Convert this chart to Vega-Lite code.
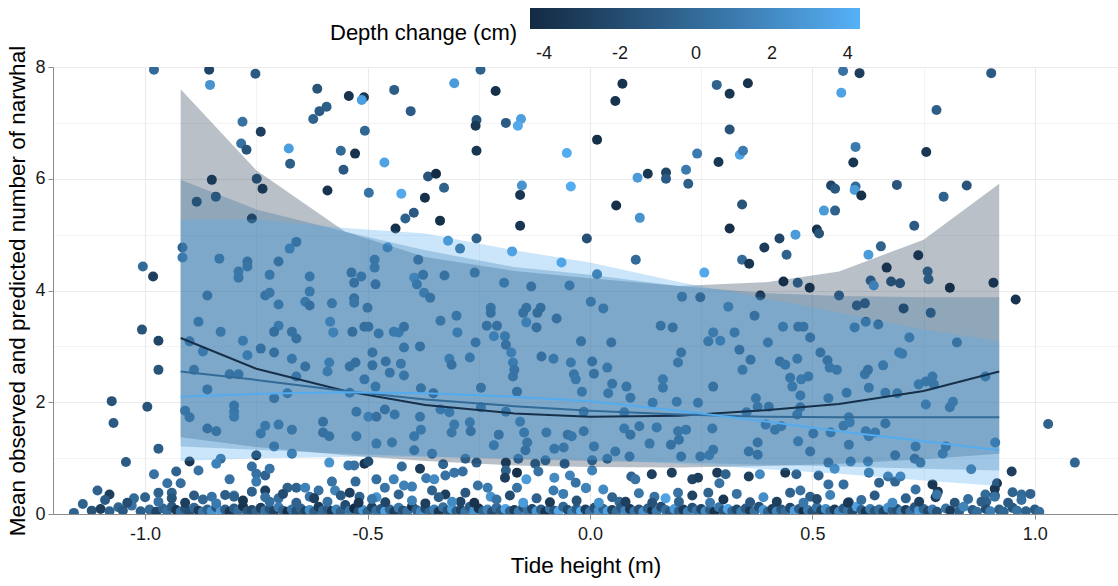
{
"$schema":"https://vega.github.io/schema/vega-lite/v6.json",
"autosize":{"type":"none"},
"padding":{"left":53,"top":67,"right":0,"bottom":72},
"width":1065,"height":447,
"background":"white",
"config":{
 "font":"Liberation Sans",
 "view":{"stroke":null},
 "axis":{"domainColor":"#8c8c8c","tickColor":"#8c8c8c","labelColor":"#1a1a1a","titleColor":"#000000","labelFontSize":18,"titleFontSize":22.5,"titleFontWeight":"normal","gridColor":"#ebebeb","labelFont":"Liberation Sans","titleFont":"Liberation Sans","labelOverlap":false,"labelFlush":false},
 "legend":{"labelFont":"Liberation Sans","titleFont":"Liberation Sans"}
},
"resolve":{"legend":{"color":"independent"}},
"datasets":{
"pts":[
{"tide":-0.98,"mean":7.95,"dc":0},{"tide":-0.856,"mean":7.95,"dc":-2.5},{"tide":-0.854,"mean":7.68,"dc":2.5},{"tide":-0.752,"mean":7.88,"dc":-1},{"tide":-0.613,"mean":7.61,"dc":-1.5},{"tide":-0.542,"mean":7.48,"dc":-3.8},{"tide":-0.508,"mean":7.46,"dc":-3.5},{"tide":-0.513,"mean":7.41,"dc":3.2},{"tide":-0.44,"mean":7.59,"dc":-0.8},{"tide":-0.246,"mean":7.95,"dc":-0.5},{"tide":-0.305,"mean":7.71,"dc":3},{"tide":-0.212,"mean":7.57,"dc":-4},{"tide":-0.781,"mean":7.02,"dc":0.5},{"tide":-0.74,"mean":6.84,"dc":-3},{"tide":-0.622,"mean":7.07,"dc":-0.5},{"tide":-0.608,"mean":7.21,"dc":-1},{"tide":-0.592,"mean":7.29,"dc":-0.8},{"tide":-0.403,"mean":7.21,"dc":-1},{"tide":-0.255,"mean":7.05,"dc":-1.5},{"tide":-0.257,"mean":6.95,"dc":-3.5},{"tide":-0.189,"mean":7.0,"dc":-1},{"tide":-0.155,"mean":7.07,"dc":3.2},{"tide":-0.162,"mean":6.95,"dc":3.8},{"tide":-0.506,"mean":6.86,"dc":-0.2},{"tide":-0.784,"mean":6.63,"dc":0.5},{"tide":-0.772,"mean":6.52,"dc":-1.5},{"tide":-0.677,"mean":6.54,"dc":3.2},{"tide":-0.674,"mean":6.27,"dc":-0.8},{"tide":-0.56,"mean":6.5,"dc":0},{"tide":-0.528,"mean":6.45,"dc":-3.8},{"tide":-0.554,"mean":6.16,"dc":-1.2},{"tide":-0.462,"mean":6.29,"dc":3.5},{"tide":-0.255,"mean":6.5,"dc":-3.6},{"tide":-0.85,"mean":5.98,"dc":-3},{"tide":-0.749,"mean":6.0,"dc":-1.2},{"tide":-0.736,"mean":5.82,"dc":-3.2},{"tide":-0.884,"mean":5.59,"dc":-1.5},{"tide":-0.841,"mean":5.68,"dc":-0.8},{"tide":-0.59,"mean":5.79,"dc":-3.8},{"tide":-0.497,"mean":5.75,"dc":0.5},{"tide":-0.424,"mean":5.73,"dc":3.8},{"tide":-0.364,"mean":6.04,"dc":-1.5},{"tide":-0.346,"mean":6.09,"dc":-4.3},{"tide":-0.328,"mean":5.84,"dc":-0.5},{"tide":-0.371,"mean":5.66,"dc":-3.9},{"tide":-0.153,"mean":5.88,"dc":2.5},{"tide":-0.157,"mean":5.71,"dc":-3.5},{"tide":-0.337,"mean":5.25,"dc":-4},{"tide":-0.396,"mean":5.39,"dc":-1.2},{"tide":-0.415,"mean":5.29,"dc":-0.5},{"tide":-0.437,"mean":5.11,"dc":-3.9},{"tide":-0.157,"mean":5.16,"dc":-3.6},{"tide":-0.175,"mean":4.7,"dc":3.2},{"tide":-0.255,"mean":4.93,"dc":-0.5},{"tide":-0.319,"mean":4.89,"dc":2.5},{"tide":-0.292,"mean":4.75,"dc":0},{"tide":-1.005,"mean":4.43,"dc":0},{"tide":-0.982,"mean":4.25,"dc":-3},{"tide":-0.916,"mean":4.77,"dc":-0.5},{"tide":-0.916,"mean":4.59,"dc":1},{"tide":-0.833,"mean":4.57,"dc":0},
{"tide":0.569,"mean":7.93,"dc":0.5},{"tide":0.606,"mean":7.89,"dc":-3},{"tide":0.902,"mean":7.89,"dc":-1},{"tide":0.565,"mean":7.54,"dc":3.5},{"tide":0.073,"mean":7.7,"dc":-3.8},{"tide":0.057,"mean":7.39,"dc":-3.8},{"tide":0.285,"mean":7.68,"dc":-0.5},{"tide":0.314,"mean":7.52,"dc":-3.6},{"tide":0.355,"mean":7.71,"dc":-3.8},{"tide":0.779,"mean":7.23,"dc":-0.8},{"tide":0.016,"mean":6.7,"dc":-4},{"tide":0.314,"mean":6.88,"dc":-1.5},{"tide":-0.052,"mean":6.46,"dc":4},{"tide":-0.043,"mean":5.86,"dc":4},{"tide":0.13,"mean":6.09,"dc":-3.5},{"tide":0.107,"mean":6.02,"dc":3},{"tide":0.171,"mean":6.11,"dc":-2.5},{"tide":0.171,"mean":6.0,"dc":-1},{"tide":0.216,"mean":6.16,"dc":1},{"tide":0.241,"mean":6.45,"dc":1},{"tide":0.289,"mean":6.3,"dc":-3.5},{"tide":0.337,"mean":6.43,"dc":3.5},{"tide":0.344,"mean":6.5,"dc":1},{"tide":0.221,"mean":5.91,"dc":-0.8},{"tide":0.597,"mean":6.57,"dc":1},{"tide":0.592,"mean":6.29,"dc":-3.6},{"tide":0.756,"mean":6.48,"dc":-3.5},{"tide":0.059,"mean":5.52,"dc":-4},{"tide":0.112,"mean":5.3,"dc":2.5},{"tide":0.342,"mean":5.54,"dc":-1.5},{"tide":0.542,"mean":5.88,"dc":-2.5},{"tide":0.551,"mean":5.82,"dc":-1.2},{"tide":0.597,"mean":5.86,"dc":0},{"tide":0.595,"mean":5.8,"dc":3},{"tide":0.61,"mean":5.7,"dc":-4},{"tide":0.69,"mean":5.89,"dc":-1.5},{"tide":0.795,"mean":5.68,"dc":-0.5},{"tide":0.847,"mean":5.88,"dc":-1.5},{"tide":-0.007,"mean":4.93,"dc":-1.8},{"tide":-0.064,"mean":4.5,"dc":3.5},{"tide":-0.046,"mean":4.09,"dc":0.5},{"tide":0.016,"mean":4.29,"dc":0.5},{"tide":0.103,"mean":4.55,"dc":0},{"tide":0.257,"mean":4.32,"dc":3.8},{"tide":0.314,"mean":5.11,"dc":-4},{"tide":0.342,"mean":4.55,"dc":0},{"tide":0.358,"mean":4.48,"dc":-3.6},{"tide":0.392,"mean":4.77,"dc":-3.2},{"tide":0.426,"mean":4.93,"dc":-2.5},{"tide":0.442,"mean":4.64,"dc":-0.5},{"tide":0.462,"mean":5.0,"dc":3},{"tide":0.51,"mean":5.09,"dc":-3.8},{"tide":0.515,"mean":5.02,"dc":-1.5},{"tide":0.526,"mean":5.43,"dc":3},{"tide":0.551,"mean":5.43,"dc":-0.5},{"tide":0.626,"mean":4.64,"dc":3},{"tide":0.654,"mean":4.79,"dc":-0.5},{"tide":0.667,"mean":4.41,"dc":-3.5},{"tide":0.729,"mean":5.16,"dc":-1},{"tide":0.738,"mean":4.63,"dc":-3.5},{"tide":0.759,"mean":4.34,"dc":0},{"tide":0.761,"mean":4.2,"dc":0},{"tide":0.809,"mean":4.05,"dc":-4},{"tide":0.907,"mean":4.14,"dc":-3.5},{"tide":0.957,"mean":3.84,"dc":-3.8},{"tide":0.631,"mean":4.18,"dc":0},{"tide":0.638,"mean":4.09,"dc":3.5},{"tide":0.677,"mean":4.16,"dc":-1},{"tide":0.697,"mean":4.13,"dc":-1},{"tide":0.435,"mean":4.16,"dc":-4},{"tide":0.467,"mean":4.14,"dc":0},{"tide":0.494,"mean":4.05,"dc":-3.8},{"tide":0.383,"mean":3.91,"dc":-3.8},{"tide":0.56,"mean":3.91,"dc":0},{"tide":0.207,"mean":3.89,"dc":0},{"tide":0.248,"mean":3.88,"dc":-2.5},
{"tide":-0.79,"mean":4.34,"dc":0.5},{"tide":-0.79,"mean":4.23,"dc":0.3},{"tide":-0.77,"mean":4.52,"dc":-0.8},{"tide":-0.77,"mean":4.43,"dc":0.2},{"tide":-0.72,"mean":4.28,"dc":0.5},{"tide":-0.7,"mean":4.52,"dc":-0.8},{"tide":-0.675,"mean":4.75,"dc":1.5},{"tide":-0.66,"mean":4.87,"dc":-0.5},{"tide":-0.63,"mean":4.25,"dc":0.3},{"tide":-0.63,"mean":3.98,"dc":0.6},{"tide":-0.536,"mean":4.32,"dc":-0.6},{"tide":-0.53,"mean":4.14,"dc":-0.8},{"tide":-0.514,"mean":4.25,"dc":0.2},{"tide":-0.484,"mean":4.55,"dc":0.3},{"tide":-0.484,"mean":4.41,"dc":0.5},{"tide":-0.482,"mean":4.11,"dc":-0.6},{"tide":-0.53,"mean":3.86,"dc":-0.6},{"tide":-0.73,"mean":3.91,"dc":-0.3},{"tide":-0.72,"mean":3.96,"dc":0.5},{"tide":-0.86,"mean":3.91,"dc":-0.5},{"tide":-0.455,"mean":4.77,"dc":2},{"tide":-0.386,"mean":4.55,"dc":-0.6},{"tide":-0.395,"mean":4.23,"dc":2.5},{"tide":-0.375,"mean":4.28,"dc":-0.5},{"tide":-0.389,"mean":4.11,"dc":0.4},{"tide":-0.373,"mean":3.96,"dc":1},{"tide":-0.359,"mean":3.87,"dc":-0.5},{"tide":-0.327,"mean":4.27,"dc":-0.6},{"tide":-0.259,"mean":4.32,"dc":0.2},{"tide":-0.193,"mean":4.14,"dc":0.5},{"tide":-0.132,"mean":4.07,"dc":-0.6},{"tide":-0.223,"mean":3.69,"dc":-0.5},{"tide":-0.143,"mean":3.69,"dc":-0.6},{"tide":-0.111,"mean":3.69,"dc":-1},{"tide":-0.76,"mean":5.29,"dc":-3.5},
{"tide":-0.97,"mean":3.1,"dc":-2.5},{"tide":-0.97,"mean":2.58,"dc":-1.5},{"tide":-0.995,"mean":1.92,"dc":-1.5},{"tide":-0.97,"mean":1.17,"dc":-0.8},{"tide":-0.9,"mean":3.09,"dc":0.5},{"tide":-0.89,"mean":2.58,"dc":0},{"tide":-0.88,"mean":3.44,"dc":0.2},{"tide":-0.87,"mean":2.91,"dc":0.8},{"tide":-0.86,"mean":2.23,"dc":0},{"tide":-0.91,"mean":1.85,"dc":0.3},{"tide":-0.9,"mean":1.73,"dc":0},{"tide":-0.86,"mean":1.53,"dc":-0.8},{"tide":-0.84,"mean":1.48,"dc":-0.5},{"tide":-0.83,"mean":3.26,"dc":0.5},{"tide":-0.81,"mean":2.5,"dc":-0.3},{"tide":-0.79,"mean":2.5,"dc":-0.3},{"tide":-0.8,"mean":1.83,"dc":0.6},{"tide":-0.8,"mean":1.74,"dc":0.8},{"tide":-0.8,"mean":1.94,"dc":0.2},{"tide":-0.78,"mean":3.1,"dc":0.8},{"tide":-0.77,"mean":2.84,"dc":1.2},{"tide":-0.74,"mean":2.96,"dc":-0.8},{"tide":-0.71,"mean":2.89,"dc":-1},{"tide":-0.71,"mean":2.07,"dc":-0.3},{"tide":-0.74,"mean":1.44,"dc":0.5},{"tide":-0.73,"mean":1.58,"dc":0.6},{"tide":-0.71,"mean":1.21,"dc":0.2},{"tide":-0.7,"mean":3.75,"dc":0.3},{"tide":-0.7,"mean":3.37,"dc":0.8},{"tide":-0.71,"mean":3.26,"dc":-1},{"tide":-0.68,"mean":2.16,"dc":0.4},{"tide":-0.67,"mean":3.26,"dc":-0.5},{"tide":-0.66,"mean":3.14,"dc":-0.8},{"tide":-0.66,"mean":2.46,"dc":0.2},{"tide":-0.67,"mean":2.78,"dc":0.5},{"tide":-0.7,"mean":1.6,"dc":0.7},{"tide":-0.67,"mean":1.51,"dc":0.5},{"tide":-0.67,"mean":1.08,"dc":0.3},{"tide":-0.64,"mean":3.8,"dc":0.7},{"tide":-0.63,"mean":3.73,"dc":-1},{"tide":-0.64,"mean":2.64,"dc":-0.8},{"tide":-0.6,"mean":1.65,"dc":-0.6},{"tide":-0.6,"mean":1.46,"dc":-0.8},{"tide":-0.586,"mean":1.39,"dc":-0.5},{"tide":-0.59,"mean":2.55,"dc":1},{"tide":-0.586,"mean":2.71,"dc":1.5},{"tide":-0.584,"mean":3.44,"dc":2},{"tide":-0.577,"mean":3.25,"dc":2.2},{"tide":-0.58,"mean":3.77,"dc":0.5},{"tide":-0.53,"mean":3.78,"dc":0.3},{"tide":-0.54,"mean":2.17,"dc":0.5},{"tide":-0.525,"mean":1.83,"dc":0},{"tide":-0.525,"mean":1.39,"dc":0.3},{"tide":-0.534,"mean":3.26,"dc":-1.2},{"tide":-0.54,"mean":2.64,"dc":-0.6},{"tide":-0.527,"mean":2.71,"dc":-1},{"tide":-0.507,"mean":2.41,"dc":0.2},{"tide":-0.5,"mean":3.69,"dc":-0.5},{"tide":-0.507,"mean":3.35,"dc":-1.2},{"tide":-0.498,"mean":3.35,"dc":-1},{"tide":-0.489,"mean":2.89,"dc":-0.5},{"tide":-0.489,"mean":2.66,"dc":-0.6},{"tide":-0.482,"mean":2.28,"dc":0.3},{"tide":-0.475,"mean":3.23,"dc":0.2},{"tide":-0.459,"mean":2.73,"dc":-0.6},{"tide":-0.45,"mean":2.53,"dc":-0.3},{"tide":-0.498,"mean":1.74,"dc":2},{"tide":-0.48,"mean":1.74,"dc":-0.8},{"tide":-0.461,"mean":1.87,"dc":-0.7},{"tide":-0.439,"mean":1.78,"dc":0.3},{"tide":-0.445,"mean":1.28,"dc":0.5},{"tide":-0.48,"mean":1.26,"dc":0.6},{"tide":-0.441,"mean":3.26,"dc":0.8},{"tide":-0.43,"mean":3.25,"dc":1.2},{"tide":-0.418,"mean":3.35,"dc":-0.6},{"tide":-0.418,"mean":2.98,"dc":0.2},{"tide":-0.425,"mean":2.69,"dc":0.5},{"tide":-0.418,"mean":2.48,"dc":0.3},{"tide":-0.382,"mean":3.0,"dc":-0.6},{"tide":-0.38,"mean":2.25,"dc":-0.2},{"tide":-0.382,"mean":1.74,"dc":0.3},{"tide":-0.38,"mean":1.51,"dc":0.8},{"tide":-0.395,"mean":1.39,"dc":0.5},{"tide":-0.395,"mean":1.14,"dc":-0.3},{"tide":-0.352,"mean":2.16,"dc":-1.2},{"tide":-0.355,"mean":1.08,"dc":0.5},{"tide":-0.336,"mean":3.46,"dc":0.3},{"tide":-0.336,"mean":1.87,"dc":0.6},{"tide":-0.316,"mean":2.78,"dc":1.3},{"tide":-0.311,"mean":2.67,"dc":-0.6},{"tide":-0.316,"mean":1.82,"dc":0.8},{"tide":-0.311,"mean":1.46,"dc":0.5},{"tide":-0.305,"mean":1.6,"dc":0.8},{"tide":-0.3,"mean":3.55,"dc":0.3},{"tide":-0.298,"mean":3.25,"dc":1.2},{"tide":-0.27,"mean":2.8,"dc":0.5},{"tide":-0.27,"mean":1.64,"dc":0.8},{"tide":-0.268,"mean":1.48,"dc":-0.6},{"tide":-0.257,"mean":3.07,"dc":-0.2},{"tide":-0.245,"mean":2.26,"dc":-0.3},{"tide":-0.245,"mean":1.91,"dc":0.2},{"tide":-0.216,"mean":1.23,"dc":0.4},{"tide":-0.223,"mean":3.6,"dc":-0.6},{"tide":-0.232,"mean":3.37,"dc":-0.6},{"tide":-0.209,"mean":3.37,"dc":-0.8},{"tide":-0.216,"mean":3.18,"dc":2},{"tide":-0.191,"mean":3.18,"dc":0.8},{"tide":-0.189,"mean":3.03,"dc":-0.6},{"tide":-0.177,"mean":2.89,"dc":1.8},{"tide":-0.173,"mean":2.71,"dc":1.5},{"tide":-0.17,"mean":2.58,"dc":-0.5},{"tide":-0.173,"mean":2.46,"dc":-0.3},{"tide":-0.164,"mean":2.19,"dc":-0.8},{"tide":-0.189,"mean":1.83,"dc":0.5},{"tide":-0.205,"mean":1.42,"dc":-0.5},{"tide":-0.157,"mean":1.65,"dc":1},{"tide":-0.148,"mean":1.46,"dc":0.4},{"tide":-0.141,"mean":1.28,"dc":0.2},{"tide":-0.145,"mean":1.14,"dc":-0.8},{"tide":-0.15,"mean":3.6,"dc":-0.8},{"tide":-0.143,"mean":3.43,"dc":2},{"tide":-0.12,"mean":3.34,"dc":-1},{"tide":-0.118,"mean":3.6,"dc":-1.5},{"tide":-0.109,"mean":2.82,"dc":-1},{"tide":-0.098,"mean":1.46,"dc":0.5},{"tide":-0.08,"mean":1.17,"dc":0.3},{"tide":-0.059,"mean":1.19,"dc":0.5},{"tide":-0.082,"mean":2.78,"dc":0.6},{"tide":-0.075,"mean":3.5,"dc":-1},{"tide":-0.05,"mean":1.42,"dc":-0.5},{"tide":-0.041,"mean":1.39,"dc":0.4},{"tide":-0.043,"mean":2.71,"dc":0.8},{"tide":-0.036,"mean":2.5,"dc":0.3},{"tide":-0.032,"mean":2.41,"dc":0.6},{"tide":-0.02,"mean":3.09,"dc":-0.5},{"tide":-0.014,"mean":1.48,"dc":0.2},{"tide":-0.018,"mean":2.19,"dc":0.4},{"tide":0.005,"mean":2.73,"dc":-0.8},{"tide":0.009,"mean":2.51,"dc":-0.5},{"tide":0.009,"mean":1.21,"dc":0.3},{"tide":0.002,"mean":3.8,"dc":0.5},{"tide":-0.014,"mean":1.83,"dc":0.5},
{"tide":0.03,"mean":3.68,"dc":0.5},{"tide":0.159,"mean":3.37,"dc":-0.5},{"tide":0.186,"mean":3.34,"dc":-0.6},{"tide":0.048,"mean":3.07,"dc":-0.6},{"tide":0.205,"mean":2.89,"dc":-0.2},{"tide":0.198,"mean":2.71,"dc":0.5},{"tide":0.266,"mean":3.09,"dc":0.5},{"tide":0.277,"mean":3.25,"dc":1},{"tide":0.039,"mean":2.62,"dc":0.5},{"tide":0.05,"mean":2.33,"dc":0.2},{"tide":0.041,"mean":2.16,"dc":0.4},{"tide":0.082,"mean":2.28,"dc":0.3},{"tide":0.091,"mean":2.08,"dc":0.3},{"tide":0.164,"mean":2.41,"dc":0.8},{"tide":0.164,"mean":2.26,"dc":0.5},{"tide":0.195,"mean":2.01,"dc":0.6},{"tide":0.243,"mean":1.99,"dc":0.3},{"tide":0.277,"mean":2.28,"dc":-0.6},{"tide":0.077,"mean":1.82,"dc":0.5},{"tide":0.141,"mean":1.99,"dc":0.6},{"tide":0.057,"mean":1.12,"dc":0.3},{"tide":0.077,"mean":1.53,"dc":0.6},{"tide":0.091,"mean":1.42,"dc":-0.5},{"tide":0.111,"mean":1.57,"dc":0.3},{"tide":0.134,"mean":1.26,"dc":0.5},{"tide":0.15,"mean":1.55,"dc":0.6},{"tide":0.182,"mean":1.24,"dc":-0.6},{"tide":0.198,"mean":1.48,"dc":0.5},{"tide":0.2,"mean":1.33,"dc":-0.5},{"tide":0.205,"mean":1.03,"dc":-0.3},{"tide":0.216,"mean":1.51,"dc":0.4},{"tide":0.248,"mean":1.03,"dc":0.2},{"tide":0.268,"mean":1.05,"dc":0.6},{"tide":0.275,"mean":1.53,"dc":0.4},{"tide":0.277,"mean":1.15,"dc":0.3},{"tide":0.089,"mean":1.03,"dc":-0.3},
{"tide":0.293,"mean":3.1,"dc":1.5},{"tide":0.311,"mean":3.71,"dc":1.2},{"tide":0.325,"mean":3.25,"dc":0.5},{"tide":0.336,"mean":2.94,"dc":-0.8},{"tide":0.343,"mean":2.58,"dc":0.5},{"tide":0.361,"mean":2.76,"dc":-0.6},{"tide":0.37,"mean":3.55,"dc":-0.8},{"tide":0.352,"mean":1.82,"dc":0.3},{"tide":0.357,"mean":1.12,"dc":-0.5},{"tide":0.377,"mean":1.28,"dc":-0.3},{"tide":0.377,"mean":1.06,"dc":-0.6},{"tide":0.373,"mean":2.07,"dc":0.5},{"tide":0.377,"mean":1.92,"dc":0.3},{"tide":0.402,"mean":1.92,"dc":-0.3},{"tide":0.4,"mean":3.07,"dc":0.4},{"tide":0.395,"mean":1.6,"dc":0.5},{"tide":0.416,"mean":1.51,"dc":0.3},{"tide":0.43,"mean":1.57,"dc":0.5},{"tide":0.427,"mean":2.73,"dc":-0.6},{"tide":0.434,"mean":3.35,"dc":0.6},{"tide":0.439,"mean":2.67,"dc":0.3},{"tide":0.45,"mean":2.44,"dc":0.3},{"tide":0.455,"mean":2.28,"dc":0.6},{"tide":0.466,"mean":2.78,"dc":0.3},{"tide":0.468,"mean":3.35,"dc":-0.6},{"tide":0.48,"mean":3.35,"dc":-0.3},{"tide":0.475,"mean":2.41,"dc":1},{"tide":0.491,"mean":2.46,"dc":0.5},{"tide":0.495,"mean":3.16,"dc":-0.6},{"tide":0.473,"mean":2.12,"dc":0.4},{"tide":0.473,"mean":1.91,"dc":-0.5},{"tide":0.468,"mean":1.3,"dc":0.6},{"tide":0.466,"mean":1.78,"dc":0.3},{"tide":0.495,"mean":1.12,"dc":-0.5},{"tide":0.502,"mean":1.44,"dc":-0.3},{"tide":0.518,"mean":2.89,"dc":-0.5},{"tide":0.534,"mean":2.75,"dc":-0.6},{"tide":0.539,"mean":2.62,"dc":0.3},{"tide":0.536,"mean":2.07,"dc":0.5},{"tide":0.541,"mean":1.46,"dc":0.4},{"tide":0.536,"mean":0.92,"dc":-0.6},{"tide":0.555,"mean":2.58,"dc":0.5},{"tide":0.57,"mean":1.58,"dc":0.5},{"tide":0.577,"mean":2.17,"dc":0.2},{"tide":0.582,"mean":1.73,"dc":0.5},{"tide":0.584,"mean":1.64,"dc":1.2},{"tide":0.582,"mean":1.24,"dc":0.3},{"tide":0.586,"mean":0.94,"dc":0.4},{"tide":0.595,"mean":3.34,"dc":0.5},{"tide":0.6,"mean":3.73,"dc":-0.6},{"tide":0.618,"mean":3.77,"dc":-0.8},{"tide":0.62,"mean":3.44,"dc":0.2},{"tide":0.618,"mean":2.5,"dc":-0.3},{"tide":0.625,"mean":2.58,"dc":-0.6},{"tide":0.627,"mean":2.26,"dc":0.5},{"tide":0.62,"mean":1.48,"dc":0.5},{"tide":0.627,"mean":1.39,"dc":0.8},{"tide":0.641,"mean":1.46,"dc":0.6},{"tide":0.648,"mean":3.39,"dc":-0.6},{"tide":0.625,"mean":0.94,"dc":0.5},{"tide":0.705,"mean":3.68,"dc":-2.5},{"tide":0.695,"mean":2.89,"dc":1.5},{"tide":0.702,"mean":2.87,"dc":1.2},{"tide":0.718,"mean":3.16,"dc":0.6},{"tide":0.659,"mean":2.66,"dc":0.5},{"tide":0.664,"mean":2.17,"dc":0.5},{"tide":0.664,"mean":1.62,"dc":-0.5},{"tide":0.686,"mean":1.05,"dc":-0.6},{"tide":0.691,"mean":2.16,"dc":0.5},{"tide":0.73,"mean":0.99,"dc":-0.8},{"tide":0.732,"mean":1.21,"dc":0.5},{"tide":0.743,"mean":0.92,"dc":-0.6},{"tide":0.739,"mean":2.32,"dc":0.6},{"tide":0.755,"mean":1.96,"dc":1},{"tide":0.755,"mean":2.37,"dc":0.3},{"tide":0.766,"mean":3.6,"dc":-0.5},{"tide":0.77,"mean":2.46,"dc":0.5},{"tide":0.773,"mean":2.32,"dc":0.3},{"tide":0.793,"mean":1.08,"dc":1},{"tide":0.8,"mean":1.21,"dc":0.5},{"tide":0.809,"mean":1.91,"dc":0.5},{"tide":0.816,"mean":2.01,"dc":0.8},{"tide":0.825,"mean":3.07,"dc":-0.5},{"tide":0.889,"mean":2.46,"dc":0.5},{"tide":0.911,"mean":1.28,"dc":1.5},{"tide":0.857,"mean":0.8,"dc":0.5},{"tide":0.948,"mean":0.76,"dc":-3},{"tide":0.97,"mean":0.35,"dc":0},
{"tide":-0.9,"mean":0.94,"dc":-3.5},{"tide":-0.88,"mean":0.78,"dc":0.5},{"tide":-0.83,"mean":0.99,"dc":0.3},{"tide":-0.84,"mean":0.9,"dc":1.5},{"tide":-0.98,"mean":0.71,"dc":0.5},{"tide":-0.93,"mean":0.76,"dc":-0.5},{"tide":-0.92,"mean":0.55,"dc":0.2},{"tide":-0.89,"mean":0.33,"dc":-1},{"tide":-0.85,"mean":0.31,"dc":0.5},{"tide":-0.81,"mean":0.62,"dc":0.5},{"tide":-0.8,"mean":0.33,"dc":1.5},{"tide":-0.75,"mean":1.05,"dc":-3.5},{"tide":-0.76,"mean":0.85,"dc":0.3},{"tide":-0.75,"mean":0.72,"dc":0.5},{"tide":-0.73,"mean":0.69,"dc":-0.5},{"tide":-0.72,"mean":0.81,"dc":0.6},{"tide":-0.75,"mean":0.58,"dc":1},{"tide":-0.73,"mean":0.42,"dc":-3},{"tide":-0.7,"mean":0.28,"dc":0.2},{"tide":-0.68,"mean":0.47,"dc":-0.6},{"tide":-0.66,"mean":0.47,"dc":-0.5},{"tide":-0.64,"mean":0.47,"dc":1.5},{"tide":-0.63,"mean":0.31,"dc":0.5},{"tide":-0.61,"mean":0.42,"dc":0.5},{"tide":-0.586,"mean":0.92,"dc":2.5},{"tide":-0.58,"mean":0.58,"dc":0.5},{"tide":-0.573,"mean":0.42,"dc":1.5},{"tide":-0.543,"mean":0.87,"dc":1},{"tide":-0.53,"mean":0.87,"dc":0.5},{"tide":-0.507,"mean":0.9,"dc":-3.5},{"tide":-0.498,"mean":0.94,"dc":-2},{"tide":-0.527,"mean":0.58,"dc":0},{"tide":-0.54,"mean":0.38,"dc":-3},{"tide":-0.518,"mean":0.31,"dc":-0.5},{"tide":-0.48,"mean":0.62,"dc":0.3},{"tide":-0.461,"mean":0.47,"dc":0.6},{"tide":-0.48,"mean":0.3,"dc":2.5},{"tide":-0.441,"mean":0.62,"dc":1.5},{"tide":-0.423,"mean":0.85,"dc":0},{"tide":-0.418,"mean":0.51,"dc":1.5},{"tide":-0.4,"mean":0.49,"dc":1.3},{"tide":-0.382,"mean":0.81,"dc":-3.2},{"tide":-0.368,"mean":0.64,"dc":1},{"tide":-0.35,"mean":0.62,"dc":2},{"tide":-0.355,"mean":0.42,"dc":-0.5},{"tide":-0.33,"mean":0.89,"dc":-0.3},{"tide":-0.325,"mean":0.69,"dc":0.5},{"tide":-0.325,"mean":0.35,"dc":-3},{"tide":-0.305,"mean":0.74,"dc":0.6},{"tide":-0.286,"mean":0.76,"dc":0.3},{"tide":-0.291,"mean":0.22,"dc":-2.5},{"tide":-0.28,"mean":0.99,"dc":0.5},{"tide":-0.255,"mean":0.92,"dc":-0.5},{"tide":-0.252,"mean":0.51,"dc":0.5},{"tide":-0.23,"mean":0.47,"dc":1},{"tide":-0.223,"mean":0.31,"dc":2.5},{"tide":-0.189,"mean":0.92,"dc":-3},{"tide":-0.189,"mean":0.78,"dc":-0.6},{"tide":-0.191,"mean":0.65,"dc":-3},{"tide":-0.164,"mean":0.74,"dc":-4},{"tide":-0.164,"mean":0.47,"dc":0.5},{"tide":-0.143,"mean":0.62,"dc":3},{"tide":-0.123,"mean":0.9,"dc":-0.5},{"tide":-0.116,"mean":0.76,"dc":0.5},{"tide":-0.1,"mean":0.96,"dc":0.6},{"tide":-0.08,"mean":0.65,"dc":2},{"tide":-0.082,"mean":0.42,"dc":1},{"tide":-0.057,"mean":0.9,"dc":-0.3},{"tide":-0.045,"mean":0.69,"dc":1.5},{"tide":-0.032,"mean":0.56,"dc":0.5},{"tide":-0.009,"mean":0.47,"dc":3},{"tide":0.005,"mean":0.78,"dc":1.5},{"tide":-0.161,"mean":0.99,"dc":0.3},{"tide":0.005,"mean":0.96,"dc":0.5},{"tide":0.039,"mean":0.99,"dc":0.3},
{"tide":0.093,"mean":0.67,"dc":-0.5},{"tide":0.102,"mean":0.62,"dc":0.6},{"tide":0.139,"mean":0.71,"dc":-3},{"tide":0.184,"mean":0.74,"dc":-3},{"tide":0.198,"mean":0.38,"dc":0.5},{"tide":0.23,"mean":0.62,"dc":-2.5},{"tide":0.243,"mean":0.65,"dc":-3},{"tide":0.266,"mean":0.38,"dc":-0.5},{"tide":0.286,"mean":0.74,"dc":-3.2},{"tide":0.291,"mean":0.55,"dc":0.5},{"tide":0.305,"mean":0.71,"dc":-0.5},{"tide":0.357,"mean":0.67,"dc":-3},{"tide":0.382,"mean":0.71,"dc":2},{"tide":0.439,"mean":0.74,"dc":-3.5},{"tide":0.464,"mean":0.71,"dc":-0.5},{"tide":0.473,"mean":0.42,"dc":0.5},{"tide":0.495,"mean":0.31,"dc":-0.6},{"tide":0.514,"mean":0.69,"dc":-0.5},{"tide":0.536,"mean":0.53,"dc":0.3},{"tide":0.55,"mean":0.81,"dc":1.5},{"tide":0.57,"mean":0.53,"dc":0.3},{"tide":0.582,"mean":0.21,"dc":-0.6},{"tide":0.627,"mean":0.74,"dc":0.3},{"tide":0.65,"mean":0.56,"dc":-0.5},{"tide":0.67,"mean":0.67,"dc":0.5},{"tide":0.686,"mean":0.58,"dc":-0.3},{"tide":0.698,"mean":0.67,"dc":1},{"tide":0.732,"mean":0.44,"dc":0.5},{"tide":0.77,"mean":0.53,"dc":-3.5},{"tide":0.782,"mean":0.4,"dc":-3.5},{"tide":0.777,"mean":0.3,"dc":-3},{"tide":0.889,"mean":0.35,"dc":0},{"tide":0.891,"mean":0.22,"dc":-0.5},{"tide":-0.009,"mean":0.46,"dc":1.5},{"tide":0.03,"mean":0.44,"dc":2},{"tide":0.066,"mean":0.22,"dc":0},{"tide":0.145,"mean":0.31,"dc":0.5},
{"tide":-1.007,"mean":3.3,"dc":-1.5},{"tide":-1.075,"mean":2.02,"dc":-1.5},{"tide":-1.071,"mean":1.63,"dc":-1},{"tide":-1.043,"mean":0.93,"dc":-1},{"tide":-1.107,"mean":0.42,"dc":-0.5},{"tide":-1.08,"mean":0.35,"dc":-3},{"tide":-1.025,"mean":0.28,"dc":0},{"tide":-0.97,"mean":0.38,"dc":-0.5},{"tide":-0.95,"mean":0.55,"dc":0.5},{"tide":-0.94,"mean":0.38,"dc":-0.5},{"tide":-0.8,"mean":0.31,"dc":-0.5},{"tide":-0.73,"mean":0.3,"dc":0.5},
{"tide":1.03,"mean":1.61,"dc":-0.5},{"tide":1.09,"mean":0.92,"dc":-0.3},{"tide":0.95,"mean":0.39,"dc":-0.5},{"tide":0.99,"mean":0.36,"dc":-0.5},{"tide":0.91,"mean":0.33,"dc":-3.5},{"tide":0.91,"mean":0.45,"dc":-3.5},{"tide":0.915,"mean":0.55,"dc":-3.5},
{"tide":-1.16,"mean":0.02,"dc":-0.5},{"tide":-1.12,"mean":0.06,"dc":-1.5},{"tide":-1.1,"mean":0.09,"dc":-3},{"tide":-1.08,"mean":0.05,"dc":-0.5},{"tide":-1.06,"mean":0.12,"dc":-0.3},{"tide":-1.05,"mean":0.06,"dc":-1.2},{"tide":-1.03,"mean":0.15,"dc":0.5},{"tide":-1.01,"mean":0.05,"dc":-0.8},{"tide":-0.99,"mean":0.08,"dc":0},{"tide":-0.975,"mean":0.04,"dc":-2.5},{"tide":-0.96,"mean":0.1,"dc":-0.5},{"tide":-0.95,"mean":0.05,"dc":0.3},{"tide":-0.94,"mean":0.13,"dc":-1},{"tide":-0.93,"mean":0.07,"dc":-3.5},{"tide":-0.92,"mean":0.04,"dc":0.5},{"tide":-0.91,"mean":0.09,"dc":-1.5},{"tide":-0.9,"mean":0.05,"dc":-2},{"tide":-0.89,"mean":0.11,"dc":-0.3},{"tide":-0.88,"mean":0.06,"dc":-3.2},{"tide":-0.87,"mean":0.04,"dc":0.8},{"tide":-0.86,"mean":0.08,"dc":-0.5},{"tide":-0.85,"mean":0.05,"dc":2.5},{"tide":-0.84,"mean":0.12,"dc":-1.5},{"tide":-0.83,"mean":0.05,"dc":3},{"tide":-0.82,"mean":0.08,"dc":-0.8},{"tide":-0.81,"mean":0.04,"dc":-3.5},{"tide":-0.8,"mean":0.1,"dc":-1},{"tide":-0.79,"mean":0.06,"dc":0.2},{"tide":-0.78,"mean":0.14,"dc":-3.8},{"tide":-0.77,"mean":0.05,"dc":-1.2},{"tide":-0.76,"mean":0.07,"dc":-2.2},{"tide":-0.75,"mean":0.04,"dc":-0.6},{"tide":-0.74,"mean":0.11,"dc":-3},{"tide":-0.73,"mean":0.06,"dc":0.4},{"tide":-0.72,"mean":0.09,"dc":-1.5},{"tide":-0.71,"mean":0.05,"dc":-2.8},{"tide":-0.7,"mean":0.12,"dc":1},{"tide":-0.69,"mean":0.06,"dc":-0.5},{"tide":-0.68,"mean":0.04,"dc":-4},{"tide":-0.67,"mean":0.08,"dc":0.6},{"tide":-0.66,"mean":0.05,"dc":-1.8},{"tide":-0.65,"mean":0.1,"dc":-0.5},{"tide":-0.64,"mean":0.05,"dc":-2.5},{"tide":-0.63,"mean":0.07,"dc":2.2},{"tide":-0.62,"mean":0.04,"dc":-0.8},{"tide":-0.61,"mean":0.13,"dc":-3.2},{"tide":-0.6,"mean":0.06,"dc":0},{"tide":-0.59,"mean":0.09,"dc":-1},{"tide":-0.58,"mean":0.05,"dc":-3.6},{"tide":-0.57,"mean":0.08,"dc":1.5},{"tide":-0.56,"mean":0.04,"dc":-0.7},{"tide":-0.55,"mean":0.16,"dc":-2},{"tide":-0.54,"mean":0.06,"dc":0.8},{"tide":-0.53,"mean":0.1,"dc":-4.2},{"tide":-0.52,"mean":0.05,"dc":-1.5},{"tide":-0.51,"mean":0.07,"dc":2.8},{"tide":-0.5,"mean":0.04,"dc":-0.5},{"tide":-0.49,"mean":0.12,"dc":-2.8},{"tide":-0.48,"mean":0.06,"dc":0.3},{"tide":-0.47,"mean":0.09,"dc":-1.2},{"tide":-0.46,"mean":0.05,"dc":3.5},{"tide":-0.45,"mean":0.08,"dc":-0.3},{"tide":-0.44,"mean":0.04,"dc":-3},{"tide":-0.43,"mean":0.11,"dc":1},{"tide":-0.42,"mean":0.06,"dc":-1.8},{"tide":-0.41,"mean":0.05,"dc":0.5},{"tide":-0.4,"mean":0.14,"dc":-4},{"tide":-0.39,"mean":0.07,"dc":-0.6},{"tide":-0.38,"mean":0.04,"dc":2},{"tide":-0.37,"mean":0.1,"dc":-2.2},{"tide":-0.36,"mean":0.05,"dc":-0.2},{"tide":-0.35,"mean":0.08,"dc":1.2},{"tide":-0.34,"mean":0.04,"dc":-3.4},{"tide":-0.33,"mean":0.12,"dc":0.4},{"tide":-0.32,"mean":0.06,"dc":-1.5},{"tide":-0.31,"mean":0.09,"dc":3.2},{"tide":-0.3,"mean":0.05,"dc":-0.8},{"tide":-0.29,"mean":0.07,"dc":-2.6},{"tide":-0.28,"mean":0.04,"dc":0.6},{"tide":-0.27,"mean":0.13,"dc":-1},{"tide":-0.26,"mean":0.06,"dc":2.5},{"tide":-0.25,"mean":0.1,"dc":-3.8},{"tide":-0.24,"mean":0.05,"dc":-0.4},{"tide":-0.23,"mean":0.08,"dc":1.6},{"tide":-0.22,"mean":0.04,"dc":-2},{"tide":-0.21,"mean":0.11,"dc":0.2},{"tide":-0.2,"mean":0.06,"dc":-1.2},{"tide":-0.19,"mean":0.09,"dc":3.6},{"tide":-0.18,"mean":0.05,"dc":-0.5},{"tide":-0.17,"mean":0.07,"dc":-3},{"tide":-0.16,"mean":0.04,"dc":1},{"tide":-0.15,"mean":0.12,"dc":-1.6},{"tide":-0.14,"mean":0.06,"dc":0.4},{"tide":-0.13,"mean":0.09,"dc":-2.4},{"tide":-0.12,"mean":0.05,"dc":2.8},{"tide":-0.11,"mean":0.08,"dc":-0.8},{"tide":-0.1,"mean":0.04,"dc":-3.6},{"tide":-0.09,"mean":0.1,"dc":0.8},{"tide":-0.08,"mean":0.06,"dc":-1.4},{"tide":-0.07,"mean":0.05,"dc":3.8},{"tide":-0.06,"mean":0.13,"dc":-0.2},{"tide":-0.05,"mean":0.07,"dc":-2},{"tide":-0.04,"mean":0.04,"dc":1.4},{"tide":-0.03,"mean":0.09,"dc":-0.9},{"tide":-0.02,"mean":0.05,"dc":4},{"tide":-0.01,"mean":0.08,"dc":-3},{"tide":0.0,"mean":0.04,"dc":0.6},{"tide":0.01,"mean":0.11,"dc":-1.6},{"tide":0.02,"mean":0.06,"dc":2.4},{"tide":0.03,"mean":0.09,"dc":-0.4},{"tide":0.04,"mean":0.05,"dc":3.4},{"tide":0.05,"mean":0.07,"dc":-2.6},{"tide":0.06,"mean":0.04,"dc":0.2},{"tide":0.07,"mean":0.12,"dc":-1},{"tide":0.08,"mean":0.06,"dc":1.8},{"tide":0.09,"mean":0.09,"dc":-3.4},{"tide":0.1,"mean":0.05,"dc":0.6},{"tide":0.11,"mean":0.08,"dc":-1.8},{"tide":0.12,"mean":0.04,"dc":2.6},{"tide":0.13,"mean":0.1,"dc":-0.6},{"tide":0.14,"mean":0.06,"dc":-4},{"tide":0.15,"mean":0.05,"dc":1},{"tide":0.16,"mean":0.13,"dc":-2},{"tide":0.17,"mean":0.07,"dc":0.2},{"tide":0.18,"mean":0.04,"dc":-1.2},{"tide":0.19,"mean":0.09,"dc":3},{"tide":0.2,"mean":0.05,"dc":-0.6},{"tide":0.21,"mean":0.08,"dc":-3.2},{"tide":0.22,"mean":0.04,"dc":1.4},{"tide":0.23,"mean":0.11,"dc":-1.6},{"tide":0.24,"mean":0.06,"dc":0.6},{"tide":0.25,"mean":0.09,"dc":-2.6},{"tide":0.26,"mean":0.05,"dc":2},{"tide":0.27,"mean":0.07,"dc":-0.8},{"tide":0.28,"mean":0.04,"dc":-3.8},{"tide":0.29,"mean":0.12,"dc":0.8},{"tide":0.3,"mean":0.06,"dc":-1.4},{"tide":0.31,"mean":0.09,"dc":3.6},{"tide":0.32,"mean":0.05,"dc":-0.2},{"tide":0.33,"mean":0.08,"dc":-2.2},{"tide":0.34,"mean":0.04,"dc":1.2},{"tide":0.35,"mean":0.1,"dc":-1},{"tide":0.36,"mean":0.06,"dc":-3.4},{"tide":0.37,"mean":0.05,"dc":0.4},{"tide":0.38,"mean":0.13,"dc":-1.8},{"tide":0.39,"mean":0.07,"dc":2.8},{"tide":0.4,"mean":0.04,"dc":-0.6},{"tide":0.41,"mean":0.09,"dc":-3},{"tide":0.42,"mean":0.05,"dc":1.6},{"tide":0.43,"mean":0.08,"dc":-1.2},{"tide":0.44,"mean":0.04,"dc":0.2},{"tide":0.45,"mean":0.11,"dc":-2.4},{"tide":0.46,"mean":0.06,"dc":3.2},{"tide":0.47,"mean":0.09,"dc":-0.8},{"tide":0.48,"mean":0.05,"dc":-4},{"tide":0.49,"mean":0.07,"dc":1},{"tide":0.5,"mean":0.04,"dc":-1.6},{"tide":0.51,"mean":0.12,"dc":0.4},{"tide":0.52,"mean":0.06,"dc":-2.8},{"tide":0.53,"mean":0.09,"dc":2.2},{"tide":0.54,"mean":0.05,"dc":-0.4},{"tide":0.55,"mean":0.08,"dc":-3.2},{"tide":0.56,"mean":0.04,"dc":1.8},{"tide":0.57,"mean":0.1,"dc":-1},{"tide":0.58,"mean":0.06,"dc":0.6},{"tide":0.59,"mean":0.05,"dc":-2.2},{"tide":0.6,"mean":0.13,"dc":3.4},{"tide":0.61,"mean":0.07,"dc":-0.6},{"tide":0.62,"mean":0.04,"dc":-3.6},{"tide":0.63,"mean":0.09,"dc":1.2},{"tide":0.64,"mean":0.05,"dc":-1.4},{"tide":0.65,"mean":0.08,"dc":0.2},{"tide":0.66,"mean":0.04,"dc":-2.6},{"tide":0.67,"mean":0.11,"dc":2.6},{"tide":0.68,"mean":0.06,"dc":-0.8},{"tide":0.69,"mean":0.09,"dc":-1.8},{"tide":0.7,"mean":0.05,"dc":1.4},{"tide":0.71,"mean":0.07,"dc":-3},{"tide":0.72,"mean":0.04,"dc":0.4},{"tide":0.73,"mean":0.12,"dc":-1.2},{"tide":0.74,"mean":0.06,"dc":3},{"tide":0.75,"mean":0.09,"dc":-0.4},{"tide":0.76,"mean":0.05,"dc":-2.4},{"tide":0.77,"mean":0.08,"dc":1},{"tide":0.78,"mean":0.04,"dc":-1.6},{"tide":0.8,"mean":0.1,"dc":0.6},{"tide":0.81,"mean":0.06,"dc":-3.2},{"tide":0.83,"mean":0.05,"dc":-0.6},{"tide":0.84,"mean":0.13,"dc":1.6},{"tide":0.86,"mean":0.07,"dc":-1},{"tide":0.87,"mean":0.04,"dc":0.2},{"tide":0.89,"mean":0.09,"dc":-2},{"tide":0.9,"mean":0.05,"dc":1.2},{"tide":0.92,"mean":0.08,"dc":-0.8},{"tide":0.93,"mean":0.04,"dc":-0.2},{"tide":0.95,"mean":0.11,"dc":-1.4},{"tide":0.96,"mean":0.06,"dc":0.4},{"tide":0.98,"mean":0.05,"dc":-0.6},{"tide":1.0,"mean":0.08,"dc":-1},{"tide":1.01,"mean":0.04,"dc":0.2},
{"tide":-1.14,"mean":0.18,"dc":-0.5},{"tide":-1.09,"mean":0.25,"dc":-1},{"tide":-1.04,"mean":0.2,"dc":-2},{"tide":-1.0,"mean":0.3,"dc":-0.5},{"tide":-0.97,"mean":0.22,"dc":0.5},{"tide":-0.94,"mean":0.28,"dc":-1.5},{"tide":-0.91,"mean":0.2,"dc":-3},{"tide":-0.87,"mean":0.26,"dc":-0.3},{"tide":-0.84,"mean":0.19,"dc":1},{"tide":-0.82,"mean":0.34,"dc":-0.8},{"tide":-0.78,"mean":0.24,"dc":-3.5},{"tide":-0.76,"mean":0.4,"dc":-0.6},{"tide":-0.72,"mean":0.22,"dc":0.3},{"tide":-0.69,"mean":0.36,"dc":-2},{"tide":-0.66,"mean":0.2,"dc":-0.5},{"tide":-0.62,"mean":0.28,"dc":-3},{"tide":-0.59,"mean":0.22,"dc":0.5},{"tide":-0.56,"mean":0.33,"dc":-1},{"tide":-0.52,"mean":0.2,"dc":-3.5},{"tide":-0.49,"mean":0.27,"dc":0.8},{"tide":-0.46,"mean":0.21,"dc":-2.5},{"tide":-0.43,"mean":0.35,"dc":-0.4},{"tide":-0.4,"mean":0.24,"dc":1.5},{"tide":-0.37,"mean":0.19,"dc":-3},{"tide":-0.34,"mean":0.3,"dc":-0.8},{"tide":-0.31,"mean":0.22,"dc":2},{"tide":-0.28,"mean":0.38,"dc":-1.2},{"tide":-0.26,"mean":0.2,"dc":-3.8},{"tide":-0.21,"mean":0.26,"dc":0.5},{"tide":-0.18,"mean":0.33,"dc":-2},{"tide":-0.15,"mean":0.2,"dc":3},{"tide":-0.12,"mean":0.28,"dc":-0.6},{"tide":-0.09,"mean":0.21,"dc":-3.2},{"tide":-0.06,"mean":0.36,"dc":1.2},{"tide":-0.03,"mean":0.24,"dc":-1.5},{"tide":0.02,"mean":0.2,"dc":2.5},{"tide":0.05,"mean":0.3,"dc":-0.5},{"tide":0.08,"mean":0.22,"dc":-3},{"tide":0.11,"mean":0.37,"dc":0.8},{"tide":0.14,"mean":0.2,"dc":-1.6},{"tide":0.17,"mean":0.28,"dc":3.5},{"tide":0.2,"mean":0.22,"dc":-0.4},{"tide":0.23,"mean":0.33,"dc":-2.6},{"tide":0.27,"mean":0.2,"dc":1},{"tide":0.3,"mean":0.26,"dc":-3.6},{"tide":0.33,"mean":0.36,"dc":0.4},{"tide":0.36,"mean":0.21,"dc":-1.2},{"tide":0.39,"mean":0.3,"dc":2.2},{"tide":0.42,"mean":0.22,"dc":-3},{"tide":0.45,"mean":0.38,"dc":-0.5},{"tide":0.48,"mean":0.2,"dc":0.8},{"tide":0.51,"mean":0.27,"dc":-2},{"tide":0.54,"mean":0.34,"dc":1.5},{"tide":0.58,"mean":0.2,"dc":-3.4},{"tide":0.61,"mean":0.25,"dc":0.2},{"tide":0.64,"mean":0.33,"dc":-1},{"tide":0.68,"mean":0.2,"dc":2},{"tide":0.71,"mean":0.28,"dc":-0.6},{"tide":0.74,"mean":0.22,"dc":-2.8},{"tide":0.78,"mean":0.35,"dc":0.6},{"tide":0.82,"mean":0.2,"dc":-1.4},{"tide":0.85,"mean":0.27,"dc":0.3},{"tide":0.88,"mean":0.22,"dc":-0.8},{"tide":0.91,"mean":0.31,"dc":0.5},{"tide":0.94,"mean":0.2,"dc":-1},{"tide":0.97,"mean":0.25,"dc":0.3}
],
"fits":[
{"tide":-0.92,"dc":-4,"fit":3.15,"lo":1.375,"hi":7.6},{"tide":-0.75,"dc":-4,"fit":2.6,"lo":1.2,"hi":6.15},{"tide":-0.55,"dc":-4,"fit":2.2,"lo":1.05,"hi":5.05},{"tide":-0.37,"dc":-4,"fit":1.95,"lo":0.95,"hi":4.6},{"tide":-0.17,"dc":-4,"fit":1.8,"lo":0.87,"hi":4.35},{"tide":0.0,"dc":-4,"fit":1.74,"lo":0.84,"hi":4.22},{"tide":0.2,"dc":-4,"fit":1.76,"lo":0.83,"hi":4.08},{"tide":0.4,"dc":-4,"fit":1.86,"lo":0.86,"hi":4.15},{"tide":0.56,"dc":-4,"fit":1.97,"lo":0.9,"hi":4.34},{"tide":0.75,"dc":-4,"fit":2.2,"lo":0.98,"hi":4.91},{"tide":0.92,"dc":-4,"fit":2.55,"lo":1.08,"hi":5.91},
{"tide":-0.92,"dc":0,"fit":2.55,"lo":1.21,"hi":5.98},{"tide":-0.75,"dc":0,"fit":2.4,"lo":1.15,"hi":5.45},{"tide":-0.55,"dc":0,"fit":2.2,"lo":1.08,"hi":5.05},{"tide":-0.37,"dc":0,"fit":2.05,"lo":1.03,"hi":4.72},{"tide":-0.17,"dc":0,"fit":1.93,"lo":0.98,"hi":4.42},{"tide":0.0,"dc":0,"fit":1.85,"lo":0.95,"hi":4.28},{"tide":0.2,"dc":0,"fit":1.78,"lo":0.92,"hi":4.08},{"tide":0.4,"dc":0,"fit":1.74,"lo":0.88,"hi":3.95},{"tide":0.56,"dc":0,"fit":1.73,"lo":0.85,"hi":3.9},{"tide":0.75,"dc":0,"fit":1.73,"lo":0.81,"hi":3.88},{"tide":0.92,"dc":0,"fit":1.73,"lo":0.78,"hi":3.88},
{"tide":-0.92,"dc":4,"fit":2.1,"lo":0.95,"hi":5.27},{"tide":-0.75,"dc":4,"fit":2.15,"lo":1.0,"hi":5.27},{"tide":-0.55,"dc":4,"fit":2.18,"lo":1.02,"hi":5.12},{"tide":-0.37,"dc":4,"fit":2.16,"lo":1.02,"hi":5.02},{"tide":-0.17,"dc":4,"fit":2.1,"lo":1.0,"hi":4.72},{"tide":0.0,"dc":4,"fit":2.02,"lo":0.97,"hi":4.5},{"tide":0.2,"dc":4,"fit":1.85,"lo":0.9,"hi":4.15},{"tide":0.4,"dc":4,"fit":1.65,"lo":0.8,"hi":3.85},{"tide":0.56,"dc":4,"fit":1.48,"lo":0.72,"hi":3.6},{"tide":0.75,"dc":4,"fit":1.3,"lo":0.6,"hi":3.3},{"tide":0.92,"dc":4,"fit":1.14,"lo":0.5,"hi":3.09}
]
},
"layer":[
{"data":{"name":"pts"},
 "mark":{"type":"circle","size":100,"opacity":1,"strokeWidth":0,"clip":true},
 "encoding":{
  "x":{"field":"tide","type":"quantitative","scale":{"domain":[-1.207,1.187],"nice":false,"zero":false},
   "title":"Tide height (m)",
   "axis":{"values":[-1,-0.75,-0.5,-0.25,0,0.25,0.5,0.75,1],"grid":true,"tickSize":5,"labelPadding":6,"titlePadding":11,
    "labelExpr":"abs(datum.value % 0.5) < 0.001 ? (datum.value < 0 ? '-' + format(-datum.value, '.1f') : format(datum.value, '.1f')) : ''",
    "tickOpacity":{"condition":{"test":"abs(datum.value % 0.5) > 0.001","value":0},"value":1},
    "gridWidth":{"condition":{"test":"abs(datum.value % 0.5) > 0.001","value":0.6},"value":1.1}}},
  "y":{"field":"mean","type":"quantitative","scale":{"domain":[0,8],"nice":false,"zero":true},
   "title":"Mean observed and predicted number of narwhal",
   "axis":{"values":[0,1,2,3,4,5,6,7,8],"grid":true,"tickSize":5,"labelPadding":3,"titlePadding":5,
    "labelExpr":"datum.value % 2 === 0 ? format(datum.value, 'd') : ''",
    "tickOpacity":{"condition":{"test":"datum.value % 2 !== 0","value":0},"value":1},
    "gridWidth":{"condition":{"test":"datum.value % 2 !== 0","value":0.6},"value":1.1}}},
  "color":{"field":"dc","type":"quantitative","title":"Depth change (cm)",
   "scale":{"domain":[-4.37,4.32],"range":["#132B43","#56B1F7"],"interpolate":"lab","nice":false,"zero":false},
   "legend":{"type":"gradient","orient":"none","legendX":277,"legendY":-59,"direction":"horizontal","titleOrient":"left","values":[-4,-2,0,2,4],
    "labelExpr":"datum.value < 0 ? '-' + format(-datum.value, 'd') : format(datum.value, 'd')",
    "gradientLength":330,"gradientThickness":21,"gradientStrokeWidth":0,"labelFontSize":18,"labelColor":"#1a1a1a","labelOffset":16,
    "titleFontSize":22,"titleFontWeight":"normal","titleColor":"#000000","titlePadding":12,"titleLimit":400,"titleAnchor":"middle","titleBaseline":"line-top","titleLineHeight":30}}
 }},
{"data":{"name":"fits"},
 "mark":{"type":"area","opacity":0.3,"clip":true},
 "encoding":{
  "x":{"field":"tide","type":"quantitative"},
  "y":{"field":"lo","type":"quantitative","title":"Mean observed and predicted number of narwhal"},
  "y2":{"field":"hi"},
  "color":{"field":"dc","type":"quantitative","legend":null},
  "detail":{"field":"dc","type":"nominal"}
 }},
{"data":{"name":"fits"},
 "mark":{"type":"line","strokeWidth":2,"clip":true},
 "encoding":{
  "x":{"field":"tide","type":"quantitative"},
  "y":{"field":"fit","type":"quantitative","title":"Mean observed and predicted number of narwhal"},
  "color":{"field":"dc","type":"quantitative","legend":null},
  "detail":{"field":"dc","type":"nominal"}
 }}
]
}
